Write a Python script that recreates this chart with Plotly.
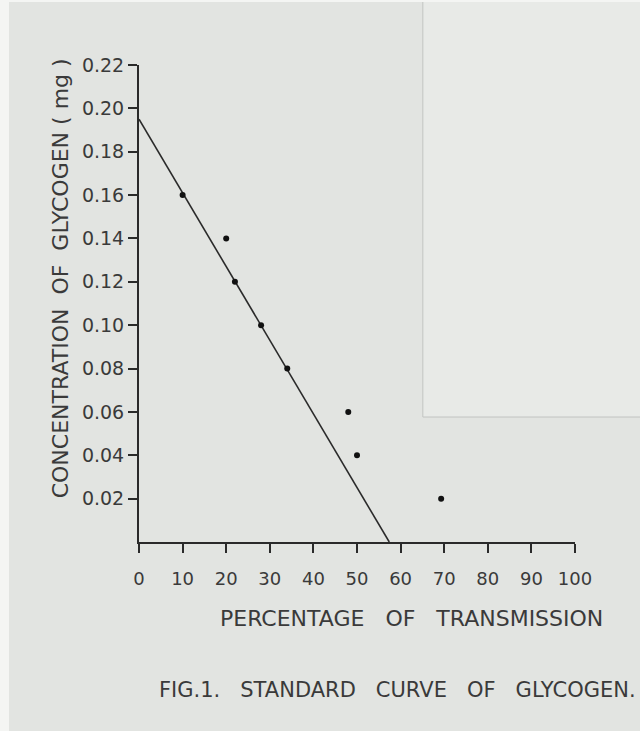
import plotly.graph_objects as go

# Data
transmission = [10, 20, 22, 28, 34, 48, 50, 69.3]
concentration = [0.16, 0.14, 0.12, 0.10, 0.08, 0.06, 0.04, 0.02]

fit_x = [0, 57.4]
fit_y = [0.195, 0.0]

x_ticks = [0, 10, 20, 30, 40, 50, 60, 70, 80, 90, 100]
y_ticks = [0.02, 0.04, 0.06, 0.08, 0.10, 0.12, 0.14, 0.16, 0.18, 0.20, 0.22]
y_ticktext = ["0.02", "0.04", "0.06", "0.08", "0.10", "0.12", "0.14", "0.16", "0.18", "0.20", "0.22"]

ink = "#2a2a2a"
textc = "#3a3a3a"
font_family = "DejaVu Sans, Liberation Sans, sans-serif"
sp = "\u00a0"

fig = go.Figure()
fig.add_trace(go.Scatter(x=fit_x, y=fit_y, mode="lines",
                         line=dict(color=ink, width=1.6), showlegend=False, cliponaxis=False))
fig.add_trace(go.Scatter(x=transmission, y=concentration, mode="markers",
                         marker=dict(color="#111111", size=6), showlegend=False, cliponaxis=False))

fig.update_xaxes(range=[0, 100], tickvals=x_ticks, ticks="outside", ticklen=9, tickwidth=2,
                 tickcolor=ink, showline=True, linecolor=ink, linewidth=2, showgrid=False,
                 zeroline=False, ticklabelstandoff=10,
                 tickfont=dict(family=font_family, size=18, color=textc))
fig.update_yaxes(range=[0, 0.22], tickvals=y_ticks, ticktext=y_ticktext, ticks="outside",
                 ticklen=9, tickwidth=2, tickcolor=ink, showline=True, linecolor=ink,
                 linewidth=2, showgrid=False, zeroline=False,
                 tickfont=dict(family=font_family, size=19, color=textc))

fig.add_annotation(text=f"CONCENTRATION {sp}OF {sp}GLYCOGEN ( mg )", textangle=-90,
                   xref="paper", yref="paper", x=-0.181, y=0.553, showarrow=False,
                   xanchor="center", yanchor="middle",
                   font=dict(family=font_family, size=22, color=textc))
fig.add_annotation(text=f"PERCENTAGE {sp}{sp}OF {sp}{sp}TRANSMISSION",
                   xref="paper", yref="paper", x=0.624, y=-0.161, showarrow=False,
                   xanchor="center", yanchor="middle",
                   font=dict(family=font_family, size=22, color=textc))
fig.add_annotation(text=f"FIG.1. {sp}{sp}STANDARD {sp}{sp}CURVE {sp}{sp}OF {sp}{sp}GLYCOGEN.",
                   xref="paper", yref="paper", x=0.594, y=-0.310, showarrow=False,
                   xanchor="center", yanchor="middle",
                   font=dict(family=font_family, size=21, color=textc))

# overlapping paper sheet (photo background)
fig.add_shape(type="rect", xref="paper", yref="paper", x0=0.651, x1=1.3, y0=0.262, y1=1.3,
              fillcolor="#e8eae7", line=dict(color="#c2c4c1", width=1), layer="below")

fig.update_layout(width=640, height=731,
                  margin=dict(l=130, r=74, t=63, b=191),
                  paper_bgcolor="#e2e4e1", plot_bgcolor="rgba(0,0,0,0)")

fig.write_html("out.html",
               post_script="document.body.style.margin='2px 0 0 9px';document.body.style.background='#f4f5f3';")
